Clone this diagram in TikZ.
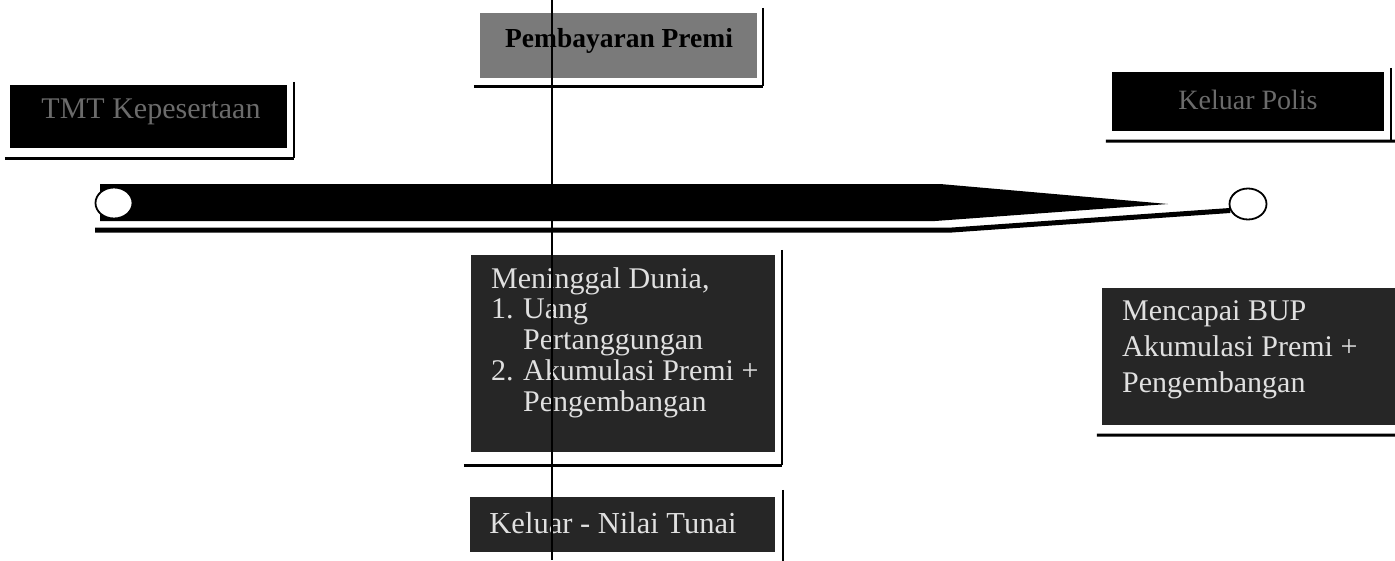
\documentclass[tikz,border=0pt]{standalone}
\usepackage{fontspec}
\setmainfont{Liberation Serif}
\usetikzlibrary{calc,shapes.geometric}
\begin{document}
\begin{tikzpicture}[x=1pt,y=-1pt,
  blackbox/.style={rectangle,fill=black,draw=none,inner sep=0pt},
  darkbox/.style={rectangle,fill=black!85,draw=none,inner sep=0pt},
  greybox/.style={rectangle,fill=black!52,draw=none,inner sep=0pt},
  shadowb/.style={line width=3pt},
  shadowr/.style={line width=2pt},
  faint/.style={text=black!58,font=\fontsize{30}{32}\selectfont},
  wtxt/.style={text=white!88!black,font=\fontsize{30}{32}\selectfont,inner sep=0pt,anchor=base west},
  ring/.style={ellipse,draw=black,line width=1.8pt,fill=white,minimum width=37pt,minimum height=31pt,inner sep=0pt}
]
\useasboundingbox (0,0) rectangle (1395,560);

% top-left box
\node[blackbox,minimum width=277pt,minimum height=63pt] (L) at (148.5,116.5) {};
\node[faint] (Lt) at (151,112) {TMT Kepesertaan};
\draw[shadowb] ($(L.south west)+(-5,10)$) -- ($(L.south east)+(7,10)$);
\draw[shadowr] ($(L.north east)+(7,-3)$) -- ($(L.south east)+(7,10)$);

% Pembayaran Premi
\node[greybox,minimum width=277pt,minimum height=65pt] (P) at (618.5,45.5) {};
\node[font=\bfseries\fontsize{27.5}{29}\selectfont,text=black] (Pt) at (619,41) {Pembayaran Premi};
\draw[shadowb] ($(P.south west)+(-6,8)$) -- ($(P.south east)+(6,8)$);
\draw[shadowr] ($(P.north east)+(6,-5)$) -- ($(P.south east)+(6,8)$);

% top-right box
\node[blackbox,minimum width=272pt,minimum height=59pt] (R) at (1248,101.5) {};
\node[faint,font=\fontsize{28}{30}\selectfont] (Rt) at (1248,100) {Keluar Polis};
\draw[shadowb] ($(R.south west)+(-6,10)$) -- (1395,141);
\draw[shadowr] ($(R.north east)+(7,-4)$) -- ($(R.south east)+(7,10)$);

% timeline bar
\fill[black] (100,184) -- (940,184) -- (1168,204) -- (935,221) -- (100,221) -- cycle;
\node[ring] (c1) at (114,203) {};
\node[ring] (c2) at (1248,204) {};
\coordinate (sb) at (95,230);
\coordinate (sk) at (952,230);
\draw[line width=5pt] (sb) -- (sk) -- (c2.200);

% Meninggal Dunia box
\node[darkbox,minimum width=304pt,minimum height=197pt] (M) at (623,353.5) {};
\draw[shadowb] ($(M.south west)+(-7,13)$) -- ($(M.south east)+(7,13)$);
\draw[shadowr] ($(M.north east)+(7,-5)$) -- ($(M.south east)+(7,13)$);
\node[wtxt] (m1) at (491,288) {Meninggal Dunia,};
\node[wtxt] (m2) at (491,318) {1.};
\node[wtxt] (m2b) at (523,318) {Uang};
\node[wtxt] (m3) at (523,349) {Pertanggungan};
\node[wtxt] (m4) at (491,380) {2.};
\node[wtxt] (m4b) at (523,380) {Akumulasi Premi +};
\node[wtxt] (m5) at (523,411) {Pengembangan};

% Mencapai BUP box
\node[darkbox,minimum width=293pt,minimum height=137pt] (B) at (1248.5,356.5) {};
\draw[shadowb] ($(B.south west)+(-5,10)$) -- (1395,435);
\node[wtxt] (b1) at (1122,320) {Mencapai BUP};
\node[wtxt] (b2) at (1122,356) {Akumulasi Premi +};
\node[wtxt] (b3) at (1122,392) {Pengembangan};

% Keluar - Nilai Tunai box
\node[darkbox,minimum width=305pt,minimum height=55pt] (K) at (622.5,524.5) {};
\draw[shadowr] ($(K.north east)+(8,-7)$) -- ($(K.south east)+(8,10)$);
\node[wtxt,anchor=base,font=\fontsize{30.5}{32}\selectfont] (Kt) at (613,533) {Keluar - Nilai Tunai};

% vertical line
\coordinate (vt) at (552,0);
\coordinate (vb) at (552,560);
\draw[line width=1.8pt] (vt) -- (vb);
\end{tikzpicture}
\end{document}
